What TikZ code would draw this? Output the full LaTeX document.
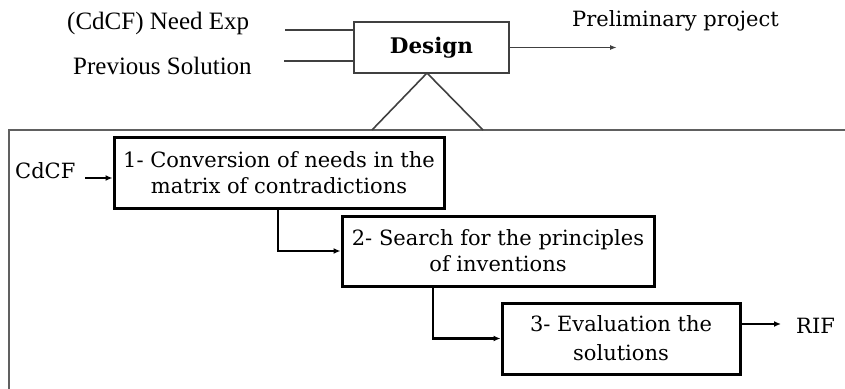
\documentclass[tikz,border=0pt]{standalone}
\usepackage{fontspec}
\setmainfont{DejaVu Serif}
\newfontfamily\timesf{Liberation Serif}
\usetikzlibrary{arrows.meta}
\definecolor{linegray}{HTML}{404040}
\definecolor{framegray}{HTML}{606060}
\begin{document}
\begin{tikzpicture}[x=1pt,y=-1pt,
  stepbox/.style={draw=black,line width=3pt,inner sep=0pt,align=center,
    font=\fontsize{21}{26}\selectfont},
  toptext/.style={inner sep=0pt,anchor=base west,font=\timesf\fontsize{25}{28}\selectfont},
  label/.style={inner sep=0pt,anchor=base west,font=\fontsize{21}{24}\selectfont},
  thin/.style={draw=linegray,line width=1.6pt},
  flow/.style={draw=black,line width=2.2pt,-{Latex[length=7pt,width=6pt]}},
]
\useasboundingbox (0,0) rectangle (845,388);

% enclosing frame of the decomposition
\draw[framegray,line width=2.2pt] (9,400) -- (9,130) -- (860,130);

% upper level: the Design activity
\node[draw=linegray,line width=1.6pt,minimum width=155pt,minimum height=51pt,inner sep=0pt,
  font=\bfseries\fontsize{21.5}{24}\selectfont] (design) at (431.5,47.5) {Design};
\node[toptext] (needexp) at (67,29) {(CdCF) Need Exp};
\node[toptext] (prevsol) at (73,74) {Previous Solution};
\node[label] (prelim) at (572,26) {Preliminary project};

\coordinate (in1) at (285,30);
\coordinate (in2) at (284,61);
\coordinate (out) at (617,47.5);
\draw[thin] (in1) -- (in1 -| design.west);
\draw[thin] (in2) -- (in2 -| design.west);
\draw[thin,-{Latex[length=7pt,width=5pt]}] (design.east |- out) -- (out);

% decomposition wedge
\coordinate (apex) at (427,73);
\coordinate (tl) at (372,130);
\coordinate (tr) at (483,130);
\draw[thin,line join=miter] (tl) -- (apex) -- (tr);

% lower level: the three steps
\node[stepbox,minimum width=330pt,minimum height=71pt] (s1) at (279,172.5)
  {1- Conversion of needs in the\\matrix of contradictions};
\node[stepbox,minimum width=312pt,minimum height=70pt] (s2) at (498,251)
  {2- Search for the principles\\of inventions};
\node[stepbox,minimum width=238pt,minimum height=71pt,
  font=\fontsize{21}{29}\selectfont] (s3) at (621,338.5)
  {3- Evaluation the\\solutions};

\node[label] (cdcf) at (15,178) {CdCF};
\node[label] (rif) at (796,333) {RIF};

\coordinate (c0) at (85,178);
\coordinate (r0) at (781,324);
\draw[flow] (c0) -- (c0 -| s1.west);
\draw[flow] ([xshift=-1pt]s1.south) |- (s2.west);
\draw[flow] ([xshift=-65pt]s2.south) |- (s3.west);
\draw[flow] (s3.east |- r0) -- (r0);
\end{tikzpicture}
\end{document}
